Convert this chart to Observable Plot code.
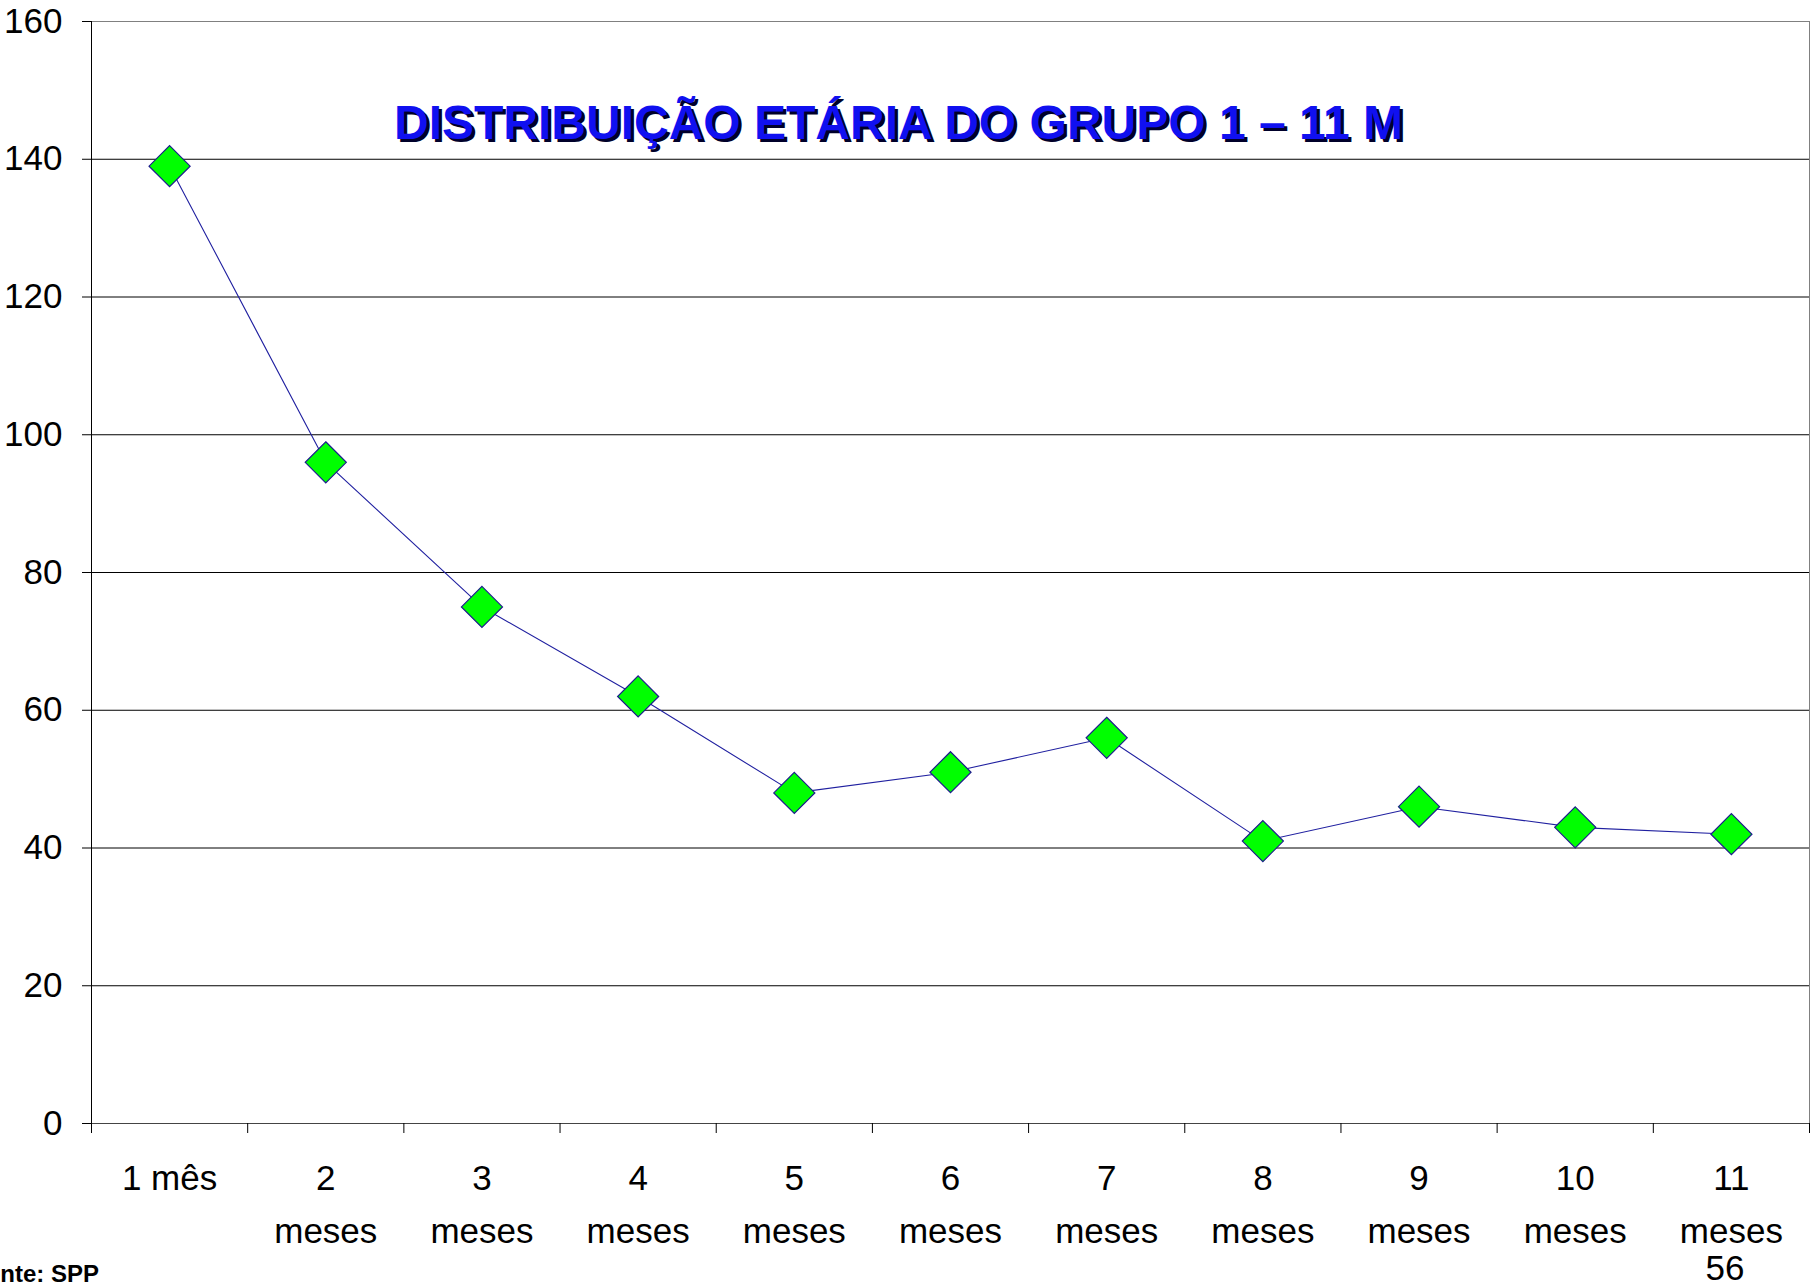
<!DOCTYPE html>
<html><head><meta charset="utf-8">
<script src="https://cdn.jsdelivr.net/npm/d3@7"></script>
<script src="https://cdn.jsdelivr.net/npm/@observablehq/plot@0.6"></script>
<style>
html,body{margin:0;padding:0;background:#fff;overflow:hidden}
#wrap{position:relative;width:1810px;height:1286px;font-family:"Liberation Sans",Arial,sans-serif}
.note{position:absolute;white-space:nowrap;color:#000}
</style></head><body><div id="wrap"></div>
<script>
const categories = ["1 mês","2\nmeses","3\nmeses","4\nmeses","5\nmeses","6\nmeses","7\nmeses","8\nmeses","9\nmeses","10\nmeses","11\nmeses"];
const values = [139, 96, 75, 62, 48, 51, 56, 41, 46, 43, 42];
const yTicks = [0, 20, 40, 60, 80, 100, 120, 140, 160];
const title = "DISTRIBUIÇÃO ETÁRIA DO GRUPO 1 – 11 M";
const source = "Fonte: SPP";
const pageNumber = "56";

const data = categories.map((c, i) => ({pos: i + 1, label: c, value: values[i]}));
const positions = data.map(d => d.pos);
const bounds = [0.5, ...positions.map(p => p + 0.5)];
const font = '"Liberation Sans", Arial, sans-serif';

const chart = Plot.plot({
  width: 1810, height: 1286,
  marginLeft: 91, marginRight: 1, marginTop: 21, marginBottom: 163,
  style: {fontFamily: font, fontSize: "35px", color: "#000", background: "#fff"},
  x: {type: "linear", domain: [0.5, categories.length + 0.5], axis: null},
  y: {domain: [0, 160], axis: null},
  marks: [
    Plot.gridY(yTicks.slice(1, -1), {stroke: "#000", strokeOpacity: 1}),
    Plot.ruleY([yTicks[yTicks.length - 1]], {stroke: "#808080"}),
    Plot.ruleX([bounds[bounds.length - 1]], {stroke: "#808080"}),
    Plot.ruleY([0], {stroke: "#444"}),
    Plot.ruleX([bounds[0]], {stroke: "#000"}),
    Plot.axisY({ticks: yTicks, tickSize: 9, tickPadding: 20, fontSize: 35, stroke: "#000", tickFormat: d => String(d), label: null}),
    Plot.axisX({ticks: bounds, tickSize: 10, tickFormat: () => "", stroke: "#000", label: null}),
    Plot.axisX({ticks: positions, tickSize: 0, tickPadding: 29, tickFormat: p => categories[p - 1], lineHeight: 1.51, fontSize: 35, label: null}),
    Plot.line(data, {x: "pos", y: "value", stroke: "#2020a0", strokeWidth: 1.1}),
    Plot.dot(data, {x: "pos", y: "value", symbol: "diamond2", r: 18.5, fill: "#00ff00", fillOpacity: 1, stroke: "#1c1c8c", strokeWidth: 1.2}),
    Plot.text([title], {frameAnchor: "top", lineAnchor: "middle", dx: -49, dy: 105, fontSize: 48, fontWeight: "bold", fill: "#00002a"}),
    Plot.text([title], {frameAnchor: "top", lineAnchor: "middle", dx: -52, dy: 102, fontSize: 48, fontWeight: "bold", fill: "#1010f0"})
  ]
});
const wrap = document.getElementById("wrap");
wrap.appendChild(chart);

const src = document.createElement("div");
src.className = "note";
src.textContent = source;
Object.assign(src.style, {left: "-29px", top: "1262px", fontSize: "24px", lineHeight: "24px", fontWeight: "bold"});
wrap.appendChild(src);

const pg = document.createElement("div");
pg.className = "note";
pg.textContent = pageNumber;
Object.assign(pg.style, {left: "1675px", width: "100px", textAlign: "center", top: "1250px", fontSize: "35px", lineHeight: "35px"});
wrap.appendChild(pg);
</script>
</body></html>
